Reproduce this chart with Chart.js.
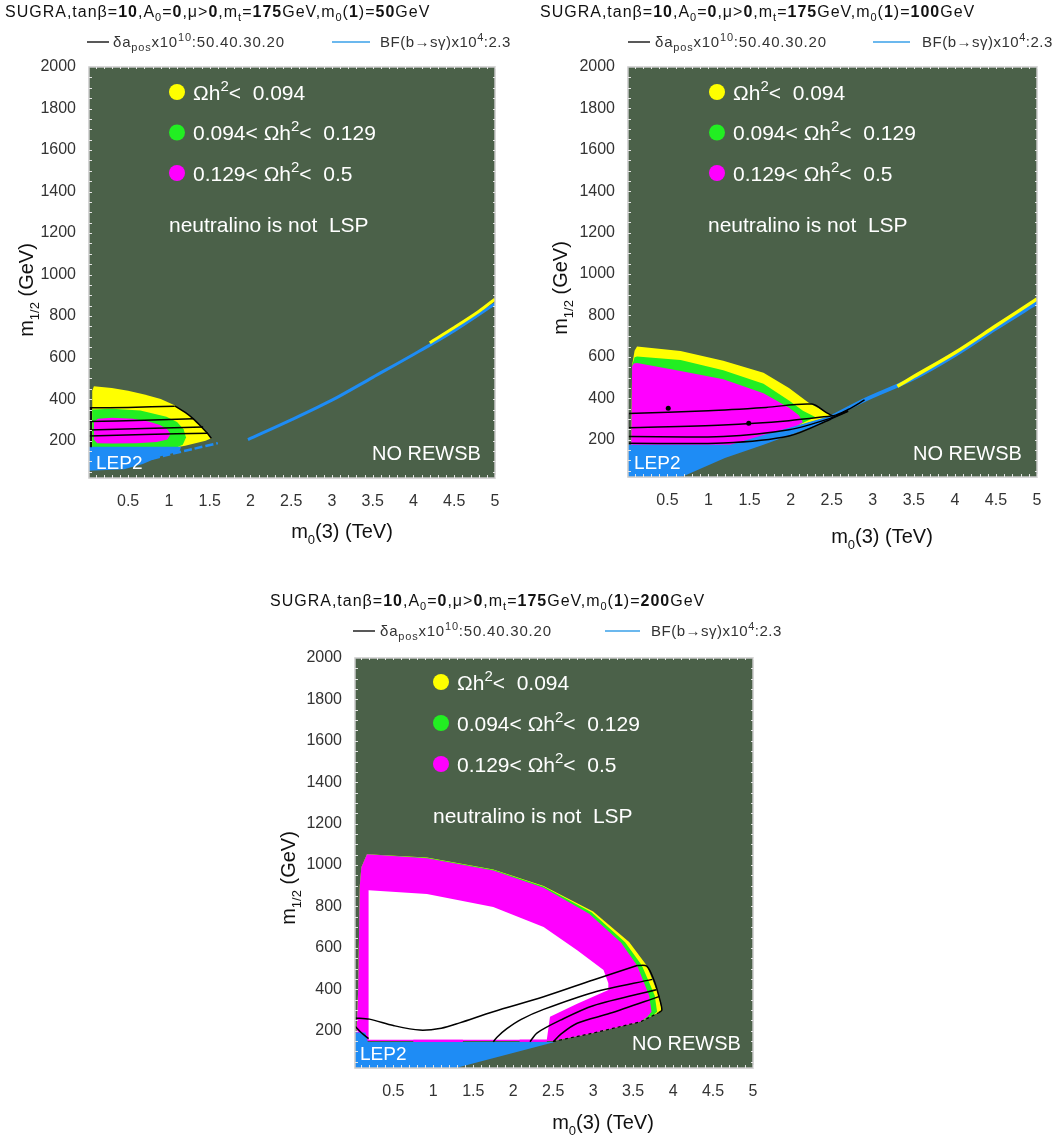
<!DOCTYPE html>
<html>
<head>
<meta charset="utf-8">
<script src="https://cdn.jsdelivr.net/npm/chart.js@4.4.1/dist/chart.umd.min.js"></script>
<style>
  html, body { margin: 0; padding: 0; background: #ffffff; }
  #wrap { position: relative; width: 1056px; height: 1143px; overflow: hidden; }
  #wrap canvas { position: absolute; left: 0; top: 0; }
</style>
</head>
<body>
<div id="wrap">
  <canvas id="c1" width="1056" height="1143"></canvas>
  <canvas id="c2" width="1056" height="1143"></canvas>
  <canvas id="c3" width="1056" height="1143"></canvas>
</div>
<script>
// ---------- axes ----------
const X_TICKS = [0.5, 1, 1.5, 2, 2.5, 3, 3.5, 4, 4.5, 5];          // m0(3) in TeV
const Y_TICKS = [200, 400, 600, 800, 1000, 1200, 1400, 1600, 1800, 2000]; // m1/2 in GeV
const X_RANGE = [0.02, 5];
const Y_RANGE = [20, 2000];

// ---------- header values ----------
const M0_ONE = ['50', '100', '200'];      // m0(1) in GeV, one per panel
const DA_LEVELS = '50.40.30.20';          // delta a_pos x 10^10 contour levels
const BSG_LEVEL = '2.3';                  // BF(b->s gamma) x 10^4 contour
const OMEGA_CUTS = ['0.094', '0.129', '0.5'];

// ---------- panel 1 : m0(1) = 50 GeV  (x: TeV, y: GeV) ----------
const P1_YELLOW = [[0.06,168],[0.06,440],[0.08,462],[0.3,454],[0.5,440],[0.7,422],[0.9,400],[1.07,370],[1.2,336],[1.3,305],[1.4,266],[1.48,232],[1.52,211],[1.45,200],[1.35,190],[1.2,175],[1.1,168]];
const P1_GREEN = [[0.06,168],[0.06,350],[0.3,354],[0.65,345],[0.97,315],[1.1,290],[1.18,255],[1.21,215],[1.17,180],[1.1,168]];
const P1_MAGENTA = [[0.08,290],[0.13,305],[0.3,310],[0.56,305],[0.75,292],[0.89,275],[0.98,255],[1.02,232],[0.98,205],[0.85,193],[0.6,188],[0.3,186],[0.12,188],[0.08,205]];
const P1_LEP2 = [[0.0,170],[1.15,170],[1.13,148],[0.9,125],[0.68,88],[0.45,62],[0.0,55]];
const P1_BSG_LOW = [[0.66,100],[1.0,133],[1.3,160],[1.6,188]];
const P1_BSG_HIGH = [[1.97,205],[2.5,300],[3.0,395],[3.5,505],[4.0,615],[4.5,730],[5.0,860]];
const P1_SLIVER = [[4.2,672],[4.5,745],[4.8,822],[5.0,882]];
const P1_DA20 = [[0.02,358],[0.5,360],[1.07,366]];
const P1_DA30 = [[0.02,292],[0.7,298],[1.3,306]];
const P1_DA40 = [[0.02,251],[0.7,258],[1.42,266]];
const P1_DA50 = [[0.02,222],[0.7,230],[1.48,236]];
const P1_EDGE = [[1.07,368],[1.2,336],[1.3,305],[1.4,266],[1.48,232],[1.52,211]];
const P1_LEFT = [[0.045,168],[0.045,358]];

// ---------- panel 2 : m0(1) = 100 GeV ----------
const P2_YELLOW = [[0.06,175],[0.07,560],[0.1,630],[0.13,650],[0.66,628],[1.18,582],[1.67,524],[1.98,450],[2.22,378],[2.44,330],[2.52,313],[2.48,312],[2.06,264],[1.67,221],[1.27,175]];
const P2_GREEN = [[0.06,175],[0.07,560],[0.1,598],[0.13,602],[0.66,585],[1.18,535],[1.67,470],[1.98,390],[2.15,340],[2.3,310],[2.06,264],[1.67,221],[1.27,175]];
const P2_MAGENTA = [[0.06,175],[0.07,555],[0.09,568],[0.13,570],[0.66,532],[1.18,492],[1.67,425],[1.98,355],[2.1,318],[2.15,285],[2.06,264],[1.67,221],[1.27,175]];
const P2_LEP2 = [[0.0,176],[1.27,176],[1.67,223],[2.06,266],[2.48,315],[2.72,348],[2.48,295],[2.06,232],[1.67,176],[1.2,112],[0.7,25],[0.65,10],[0.0,10]];
const P2_DIAG = [[2.45,300],[2.9,392],[3.5,497],[4.0,609],[4.5,738],[5.0,862]];
const P2_SLIVER = [[3.3,458],[3.5,505],[4.0,620],[4.5,750],[5.0,880]];
const P2_DA20 = [[0.02,327],[1.0,340],[1.7,356],[2.26,372],[2.44,330],[2.52,316],[2.7,346],[2.9,392]];
const P2_DA30 = [[0.02,258],[1.18,271],[1.98,292],[2.52,316]];
const P2_DA40 = [[0.02,215],[1.18,216],[1.98,248],[2.48,303],[2.7,340]];
const P2_DA50 = [[0.02,183],[1.18,184],[1.98,218],[2.48,298],[2.7,337]];
const P2_LEFT = [[0.025,258],[0.025,327]];
const P2_DOTS = [[0.51,352],[1.49,279]];

// ---------- panel 3 : m0(1) = 200 GeV ----------
const P3_YELLOW = [[0.0,150],[0.04,200],[0.06,400],[0.08,900],[0.1,990],[0.17,1052],[0.92,1036],[1.75,979],[2.38,899],[3.0,776],[3.45,628],[3.67,515],[3.82,370],[3.86,295],[3.8,284],[3.59,243],[2.98,187],[2.5,150]];
const P3_GREEN = [[0.0,150],[0.04,200],[0.06,400],[0.08,900],[0.1,990],[0.17,1052],[0.92,1035],[1.75,977],[2.38,896],[2.98,772],[3.4,627],[3.61,515],[3.77,370],[3.8,292],[3.75,275],[3.59,243],[2.98,187],[2.5,150]];
const P3_MAGENTA = [[0.0,150],[0.04,200],[0.06,400],[0.08,900],[0.1,990],[0.17,1052],[0.92,1033],[1.75,974],[2.38,890],[2.95,765],[3.35,625],[3.55,515],[3.7,370],[3.73,292],[3.68,268],[3.59,243],[2.98,187],[2.5,150]];
const P3_WHITE = [[0.19,157],[0.19,879],[0.92,860],[1.75,798],[2.38,701],[2.8,589],[3.13,493],[3.19,429],[3.19,397],[2.8,330],[2.46,267],[2.42,157]];
const P3_STRIP_A = [[0.75,146],[1.37,146],[1.37,157],[0.75,157]];
const P3_STRIP_B = [[2.08,146],[2.42,146],[2.42,157],[2.08,157]];
const P3_LEP2 = [[0.0,192],[0.15,192],[0.18,146],[2.52,146],[1.28,20],[1.26,10],[0.0,10]];
const P3_DA20 = [[0.02,262],[0.2,256],[0.5,225],[0.83,203],[1.1,212],[1.33,238],[1.75,292],[2.38,364],[3.0,445],[3.55,515]];
const P3_DA30 = [[1.75,147],[1.8,170],[1.92,210],[2.1,255],[2.38,303],[3.0,385],[3.74,448]];
const P3_DA40 = [[2.21,147],[2.3,190],[2.59,251],[3.0,321],[3.79,398]];
const P3_DA50 = [[2.5,147],[2.6,185],[2.8,236],[3.21,284],[3.83,366]];
const P3_EDGE = [[3.55,515],[3.67,512],[3.76,445],[3.82,370],[3.86,300],[3.82,287]];
const P3_FLOOR = [[2.5,148],[2.98,187],[3.59,243],[3.82,287]];
const P3_CORNER = [[0.02,222],[0.1,190],[0.19,162]];

// ---------- styling ----------
const FONT = '"Liberation Sans", Arial, Helvetica, sans-serif';
const COL = {
  bg: '#4b6149', yellow: '#ffff00', green: '#22ee22', magenta: '#ff00ff',
  blue: '#1e8cf5', white: '#ffffff', ink: '#000000', frame: '#c9c9c9'
};

const pts = arr => arr.map(([x, y]) => ({ x, y }));

function area(arr, color, order) {
  return { data: pts(arr), backgroundColor: color, borderColor: color, borderWidth: 0,
           fill: 'shape', pointRadius: 0, tension: 0, order };
}
function curve(arr, color, width, order, extra) {
  return Object.assign({ data: pts(arr), borderColor: color, backgroundColor: color, borderWidth: width,
           fill: false, pointRadius: 0, tension: 0.3, order }, extra || {});
}

// ---------- rich text (sub/superscripts, bold digits) ----------
function segFont(kind, size, smallScale) {
  const small = kind === 'sub' || kind === 'sup';
  const s = small ? Math.round(size * smallScale) : size;
  const bold = kind === 'b' ? 'bold ' : '';
  const dy = (kind === 'sub') ? size * 0.28 : (kind === 'sup') ? -size * 0.42 : 0;
  return { font: bold + s + 'px ' + FONT, dy };
}
function drawRich(ctx, segs, x, y, size, color, opt) {
  const o = Object.assign({ align: 'left', rotate: 0, spacing: 0, small: 0.66 }, opt || {});
  ctx.save();
  ctx.translate(x, y);
  if (o.rotate) ctx.rotate(o.rotate);
  ctx.fillStyle = color;
  ctx.textBaseline = 'alphabetic';
  ctx.textAlign = 'left';
  ctx.letterSpacing = o.spacing + 'px';
  let w = 0;
  for (const [t, k] of segs) { ctx.font = segFont(k, size, o.small).font; w += ctx.measureText(t).width; }
  let cx = o.align === 'center' ? -w / 2 : o.align === 'right' ? -w : 0;
  for (const [t, k] of segs) {
    const f = segFont(k, size, o.small);
    ctx.font = f.font;
    ctx.fillText(t, cx, f.dy);
    cx += ctx.measureText(t).width;
  }
  ctx.restore();
}

function titleSegs(m0) {
  return [['SUGRA,tan\u03b2=', ''], ['10', 'b'], [',A', ''], ['0', 'sub'], ['=', ''], ['0', 'b'],
          [',\u03bc>', ''], ['0', 'b'], [',m', ''], ['t', 'sub'], ['=', ''], ['175', 'b'],
          ['GeV,m', ''], ['0', 'sub'], ['(', ''], ['1', 'b'], [')=', ''], [m0, 'b'], ['GeV', '']];
}
const DA_SEGS = [['\u03b4a', ''], ['pos', 'sub'], ['x10', ''], ['10', 'sup'], [':' + DA_LEVELS, '']];
const BSG_SEGS = [['BF(b\u2192s\u03b3)x10', ''], ['4', 'sup'], [':' + BSG_LEVEL, '']];
const OMEGA_ROWS = [
  { color: COL.yellow,  segs: [['\u03a9h', ''], ['2', 'sup'], ['<  ' + OMEGA_CUTS[0], '']] },
  { color: COL.green,   segs: [[OMEGA_CUTS[0] + '< \u03a9h', ''], ['2', 'sup'], ['<  ' + OMEGA_CUTS[1], '']] },
  { color: COL.magenta, segs: [[OMEGA_CUTS[1] + '< \u03a9h', ''], ['2', 'sup'], ['<  ' + OMEGA_CUTS[2], '']] }
];
const Y_TITLE = [['m', ''], ['1/2', 'sub'], [' (GeV)', '']];
const X_TITLE = [['m', ''], ['0', 'sub'], ['(3) (TeV)', '']];

// ---------- per-panel decoration: plot background, frame, labels ----------
function decoPlugin(L) {
  return {
    id: 'deco',
    beforeDatasetsDraw(chart) {
      const { ctx, chartArea: a } = chart;
      ctx.save();
      ctx.fillStyle = COL.bg;
      ctx.fillRect(a.left, a.top, a.right - a.left, a.bottom - a.top);
      ctx.restore();
    },
    afterDatasetsDraw(chart) {
      const { ctx, chartArea: a } = chart;
      const xs = chart.scales.x, ys = chart.scales.y;
      ctx.save();
      // frame with small inward ticks
      ctx.strokeStyle = COL.frame;
      ctx.lineWidth = 1.5;
      ctx.strokeRect(a.left, a.top, a.right - a.left, a.bottom - a.top);
      ctx.strokeStyle = '#e4e4e4';
      ctx.lineWidth = 1;
      ctx.beginPath();
      for (let i = 1; i <= 50; i++) {
        const px = Math.round(xs.getPixelForValue(i / 10)) + 0.5;
        ctx.moveTo(px, a.bottom); ctx.lineTo(px, a.bottom - 3);
        ctx.moveTo(px, a.top); ctx.lineTo(px, a.top + 2);
      }
      for (let v = 50; v < 2000; v += 50) {
        const py = Math.round(ys.getPixelForValue(v)) + 0.5;
        ctx.moveTo(a.left, py); ctx.lineTo(a.left + 3, py);
        ctx.moveTo(a.right, py); ctx.lineTo(a.right - 2, py);
      }
      ctx.stroke();

      // header: title and contour key
      drawRich(ctx, titleSegs(L.m0), L.title[0], L.title[1], 16, '#111', { spacing: 1 });
      const ky = L.key[0];
      ctx.lineWidth = 1.5;
      ctx.strokeStyle = '#222';
      ctx.beginPath(); ctx.moveTo(L.key[1], ky); ctx.lineTo(L.key[2], ky); ctx.stroke();
      drawRich(ctx, DA_SEGS, L.key[3], ky + 5, 15, '#333', { spacing: 0.8, small: 0.72 });
      ctx.strokeStyle = '#3aa0e8';
      ctx.beginPath(); ctx.moveTo(L.key[4], ky); ctx.lineTo(L.key[5], ky); ctx.stroke();
      drawRich(ctx, BSG_SEGS, L.key[6], ky + 5, 15, '#333', { spacing: 0.5, small: 0.72 });

      // relic density key inside the plot
      OMEGA_ROWS.forEach((row, i) => {
        const cy = L.omega[1] + i * L.omega[2];
        ctx.fillStyle = row.color;
        ctx.beginPath(); ctx.arc(L.omega[0], cy, 8, 0, Math.PI * 2); ctx.fill();
        drawRich(ctx, row.segs, L.omega[0] + 16, cy + 7.5, 21, '#ffffff', { small: 0.7 });
      });
      ctx.font = '21px ' + FONT;
      ctx.fillStyle = '#ffffff';
      ctx.textBaseline = 'middle';
      ctx.textAlign = 'left';
      ctx.fillText('neutralino is not  LSP', L.lsp[0], L.lsp[1]);
      ctx.font = '19px ' + FONT;
      ctx.fillText('LEP2', L.lep[0], L.lep[1]);
      ctx.font = '20px ' + FONT;
      ctx.fillText('NO REWSB', L.rewsb[0], L.rewsb[1]);

      // axis titles
      drawRich(ctx, X_TITLE, L.xt[0], L.xt[1], 20, '#111', { align: 'center' });
      drawRich(ctx, Y_TITLE, L.yt[0], L.yt[1], 20, '#111', { align: 'center', rotate: -Math.PI / 2 });
      ctx.restore();
    }
  };
}

function makePanel(id, box, datasets, labels) {
  const W = 1056, H = 1143, YW = 60, XH = 40;
  return new Chart(document.getElementById(id), {
    type: 'line',
    data: { datasets },
    options: {
      responsive: false,
      animation: false,
      devicePixelRatio: 1,
      events: [],
      layout: { padding: { left: box.l - YW, top: box.t, right: W - box.r, bottom: H - box.b - XH } },
      plugins: { legend: { display: false }, tooltip: { enabled: false }, title: { display: false } },
      scales: {
        x: {
          type: 'linear', min: X_RANGE[0], max: X_RANGE[1],
          grid: { display: false, drawTicks: false }, border: { display: false },
          afterBuildTicks: s => { s.ticks = X_TICKS.map(v => ({ value: v })); },
          afterFit: s => { s.height = XH; },
          ticks: { padding: 14, color: '#333', font: { family: FONT, size: 16 },
                   maxRotation: 0, autoSkip: false, callback: v => String(v) }
        },
        y: {
          type: 'linear', min: Y_RANGE[0], max: Y_RANGE[1],
          grid: { display: false, drawTicks: false }, border: { display: false },
          afterBuildTicks: s => { s.ticks = Y_TICKS.map(v => ({ value: v })); },
          afterFit: s => { s.width = YW; },
          ticks: { padding: 13, color: '#333', font: { family: FONT, size: 16 },
                   autoSkip: false, callback: v => String(v) }
        }
      }
    },
    plugins: [decoPlugin(labels)]
  });
}

// ---------- panel 1 ----------
makePanel('c1', { l: 89, t: 67, r: 495, b: 478 }, [
  curve(P1_DA20, COL.ink, 1.5, 1), curve(P1_DA30, COL.ink, 1.5, 1),
  curve(P1_DA40, COL.ink, 1.5, 1), curve(P1_DA50, COL.ink, 1.5, 1),
  curve(P1_EDGE, COL.ink, 1.5, 1), curve(P1_LEFT, COL.ink, 1.5, 1, { tension: 0 }),
  curve(P1_SLIVER, COL.yellow, 3, 4),
  curve(P1_BSG_HIGH, COL.blue, 3, 5),
  curve(P1_BSG_LOW, COL.blue, 2.5, 5, { borderDash: [8, 3] }),
  area(P1_LEP2, COL.blue, 6),
  area(P1_MAGENTA, COL.magenta, 8),
  area(P1_GREEN, COL.green, 9),
  area(P1_YELLOW, COL.yellow, 10)
], {
  m0: M0_ONE[0], title: [5, 17], key: [42, 87, 109, 113, 332, 370, 380],
  omega: [177, 92, 40.5], lsp: [169, 226], lep: [96, 464], rewsb: [372, 454],
  xt: [342, 538], yt: [33, 290]
});

// ---------- panel 2 ----------
makePanel('c2', { l: 628, t: 67, r: 1037, b: 477 }, [
  { data: pts(P2_DOTS), showLine: false, pointRadius: 2.5, pointBackgroundColor: COL.ink,
    pointBorderWidth: 0, order: 0 },
  curve(P2_DA20, COL.ink, 1.5, 1), curve(P2_DA30, COL.ink, 1.5, 1),
  curve(P2_DA40, COL.ink, 1.5, 1), curve(P2_DA50, COL.ink, 1.5, 1),
  curve(P2_LEFT, COL.ink, 1.5, 1, { tension: 0 }),
  curve(P2_SLIVER, COL.yellow, 3.5, 4),
  curve(P2_DIAG, COL.blue, 4, 5),
  area(P2_LEP2, COL.blue, 6),
  area(P2_MAGENTA, COL.magenta, 8),
  area(P2_GREEN, COL.green, 9),
  area(P2_YELLOW, COL.yellow, 10)
], {
  m0: M0_ONE[1], title: [540, 17], key: [42, 628, 650, 655, 873, 910, 922],
  omega: [717, 92, 40.5], lsp: [708, 226], lep: [634, 464], rewsb: [913, 454],
  xt: [882, 543], yt: [567, 288]
});

// ---------- panel 3 ----------
makePanel('c3', { l: 355, t: 658, r: 753, b: 1068 }, [
  curve(P3_DA20, COL.ink, 1.5, 1), curve(P3_DA30, COL.ink, 1.5, 1),
  curve(P3_DA40, COL.ink, 1.5, 1), curve(P3_DA50, COL.ink, 1.5, 1),
  curve(P3_EDGE, COL.ink, 1.5, 1), curve(P3_CORNER, COL.ink, 1.5, 1),
  curve(P3_FLOOR, COL.ink, 1.2, 1, { borderDash: [3, 3], tension: 0 }),
  area(P3_LEP2, COL.blue, 6),
  area(P3_STRIP_A, COL.magenta, 7),
  area(P3_STRIP_B, COL.magenta, 7),
  area(P3_WHITE, COL.white, 7.5),
  area(P3_MAGENTA, COL.magenta, 8),
  area(P3_GREEN, COL.green, 9),
  area(P3_YELLOW, COL.yellow, 10)
], {
  m0: M0_ONE[2], title: [270, 606], key: [631, 353, 375, 380, 605, 640, 651],
  omega: [441, 682, 41], lsp: [433, 817], lep: [360, 1055], rewsb: [632, 1044],
  xt: [603, 1129], yt: [295, 878]
});
</script>
</body>
</html>
